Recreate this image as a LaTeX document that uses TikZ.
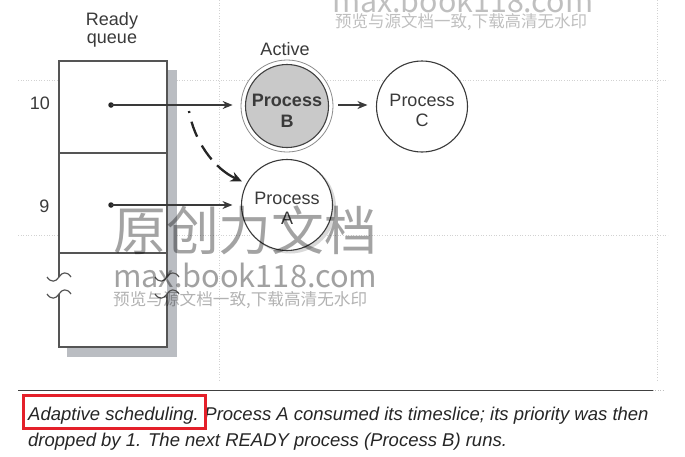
\documentclass[tikz,border=0pt]{standalone}
\usepackage{graphicx}
\usepackage{fontspec}
\setmainfont{Liberation Sans}
\newfontfamily\cjkwm{Noto Sans CJK SC}
\usetikzlibrary{arrows.meta,calc}
\definecolor{ink}{HTML}{3A3A3A}
\definecolor{qline}{HTML}{555555}
\definecolor{qshadow}{HTML}{BABDC2}
\definecolor{bfill}{HTML}{C9C9C9}
\definecolor{capred}{HTML}{E4202A}
\newcommand\qbreak[2]{\draw[qedge] ({#1-12},{#2}) .. controls ({#1-8},{#2+6}) and ({#1-3},{#2+5}) .. ({#1},{#2}) .. controls ({#1+3},{#2-5}) and ({#1+8},{#2-6}) .. ({#1+12},{#2});}
\begin{document}
\begin{tikzpicture}[x=1pt,y=-1pt,
  lbl/.style={font=\fontsize{18}{21.6}\selectfont, text=ink, inner sep=0pt, anchor=base},
  ptext/.style={font=\fontsize{18}{20.5}\selectfont, text=ink, align=center, inner sep=0pt},
  proc/.style={circle, draw=ink, line width=1.1pt, minimum size=91pt, inner sep=0pt, fill=white},
  arr/.style={draw=ink, line width=1.1pt, -{Stealth[length=10pt,width=8pt]}},
  dasharr/.style={draw=black!85, line width=2.3pt, dash pattern=on 2pt off 9pt on 16pt off 10pt on 17pt off 8pt on 60pt, -{Stealth[length=11pt,width=10pt]}},
  qedge/.style={draw=qline, line width=1.2pt},
  qdot/.style={circle, fill=black!85, inner sep=0pt, minimum size=5.5pt},
  captxt/.style={font=\fontsize{18.5}{22}\selectfont\itshape, text=black!85, inner sep=0pt, anchor=base west},
  wm/.style={inner sep=0pt, text=black, anchor=west},
  guide/.style={draw=gray!35, dotted, line width=0.6pt}
]
\useasboundingbox (0,0) rectangle (685,456);
\fill[white] (0,0) rectangle (685,456);
\clip (0,0) rectangle (685,456);

% faint dotted guide lines
\draw[guide] (18,80) -- (668,80);
\draw[guide] (18,235) -- (668,235);
\draw[guide] (219,0) -- (219,380);
\draw[guide] (657,0) -- (657,380);

% ready queue
\fill[qshadow] (167,70) rectangle (177,357);
\fill[qshadow] (67,347) rectangle (177,357);
\fill[white] (59,61) rectangle (167,347);
\draw[qedge] (59,277) -- (59,61) -- (167,61) -- (167,277);
\draw[qedge] (59,294) -- (59,347) -- (167,347) -- (167,294);
\draw[qedge] (59,153) -- (167,153);
\draw[qedge] (59,253) -- (167,253);
\qbreak{59}{277}
\qbreak{59}{294}
\qbreak{167}{277}
\qbreak{167}{294}

\node[lbl] (ready) at (112,25) {Ready};
\node[lbl] (queue) at (112,43.5) {queue};
\node[lbl] (p10) at (40,109.5) {10};
\node[lbl] (p9) at (44.5,212) {9};
\node[lbl] (active) at (285,55) {Active};

% processes
\node[circle, draw=black!45, line width=0.8pt, minimum size=92pt, inner sep=0pt, fill=white] (Bo) at (287,106) {};
\node[proc, fill=bfill, draw=black!75, minimum size=83pt] (B) at (287,106) {};
\node[ptext] (Bt) at ([yshift=-5pt]B.center) {\textbf{Process}\\\textbf{B}};
\node[proc] (C) at (422,106.5) {};
\node[ptext] (Ct) at ([yshift=-4pt]C.center) {Process\\C};
\fill[black!15] (290,207.5) circle[radius=46pt];
\node[proc] (A) at (287,205) {};
\node[ptext] (At) at ([yshift=-3.5pt]A.center) {Process\\A};

% dots and arrows
\node[qdot] (d10) at (111,105) {};
\node[qdot] (d9) at (111,205) {};
\coordinate (ds) at (189,111);
\draw[arr, shorten >=8pt] (d10.center) -- (d10 -| Bo.west);
\draw[arr, shorten >=8.5pt] (d9.center) -- (d9 -| A.west);
\draw[arr, shorten <=5pt, shorten >=8.5pt] (Bo.east |- d10) -- (C.west |- d10);
\draw[dasharr, shorten >=5pt] (ds) .. controls (194,140) and (213,168) .. (A.152);

% caption
\draw[line width=1.2pt, black!75] (18,390.5) -- (653,390.5);
\draw[gray!50, dotted] (653,390.5) -- (663,390.5);
\node[captxt] (capA) at (28,420) {Adaptive scheduling.};
\node[captxt] (capB) at ($(capA.base east)+(5.1,0)$) {Process A consumed its timeslice; its priority was then};
\node[captxt] (capC) at (28,446.5) {dropped by 1. The next READY process (Process B) runs.};
\draw[capred, line width=3pt] (23,395) rectangle (205,428);

% watermark
\node[wm, opacity=0.36] (wmbig) at (113,230) {\resizebox{264pt}{!}{\cjkwm 原创力文档}};
\node[wm, opacity=0.37, anchor=base west] (wmurl) at (113,287) {\resizebox{264pt}{!}{\cjkwm max.book118.com}};
\node[wm, opacity=0.3] (wmnote) at (113,300) {\resizebox{254pt}{!}{\cjkwm 预览与源文档一致,下载高清无水印}};
\node[wm, opacity=0.25, anchor=base west] (wmurl2) at (332,12) {\resizebox{261pt}{!}{\cjkwm max.book118.com}};
\node[wm, opacity=0.25] (wmnote2) at (335,22) {\resizebox{252pt}{!}{\cjkwm 预览与源文档一致,下载高清无水印}};
\end{tikzpicture}
\end{document}
